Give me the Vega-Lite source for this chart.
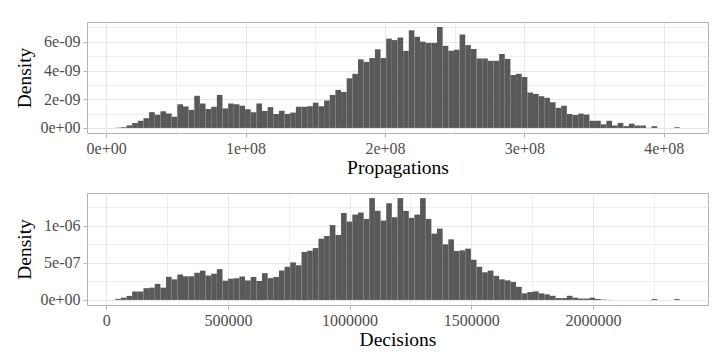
{
  "$schema": "https://vega.github.io/schema/vega-lite/v6.json",
  "background": "white",
  "padding": {"left": 14, "top": 18, "right": 18, "bottom": 5},
  "spacing": 15,
  "config": {
    "font": "Liberation Serif",
    "view": {"stroke": "#B3B3B3", "strokeWidth": 1},
    "axis": {
      "labelFont": "Liberation Serif",
      "labelFontSize": 16,
      "labelColor": "#4D4D4D",
      "titleFont": "Liberation Serif",
      "titleFontSize": 19.5,
      "titleFontWeight": "normal",
      "titleColor": "#000000",
      "domain": false,
      "tickColor": "#B3B3B3",
      "tickSize": 4,
      "labelPadding": 3,
      "labelOverlap": false,
      "labelFlush": false,
      "gridColor": "#E6E6E6"
    },
    "axisX": {"titlePadding": 2},
    "axisY": {"titlePadding": 5}
  },
  "datasets": {
    "prop": [
      {"start": 6500000, "end": 10550000, "density": 2e-11},
      {"start": 10550000, "end": 14600000, "density": 5e-11},
      {"start": 14600000, "end": 18650000, "density": 1.8e-10},
      {"start": 18650000, "end": 22700000, "density": 3.4e-10},
      {"start": 22700000, "end": 26750000, "density": 5.0e-10},
      {"start": 26750000, "end": 30800000, "density": 6.8e-10},
      {"start": 30800000, "end": 34850000, "density": 1.10e-9},
      {"start": 34850000, "end": 38900000, "density": 9.2e-10},
      {"start": 38900000, "end": 42950000, "density": 1.16e-9},
      {"start": 42950000, "end": 47000000, "density": 1.01e-9},
      {"start": 47000000, "end": 51050000, "density": 7.8e-10},
      {"start": 51050000, "end": 55100000, "density": 1.65e-9},
      {"start": 55100000, "end": 59150000, "density": 1.50e-9},
      {"start": 59150000, "end": 63200000, "density": 1.26e-9},
      {"start": 63200000, "end": 67250000, "density": 2.24e-9},
      {"start": 67250000, "end": 71300000, "density": 1.70e-9},
      {"start": 71300000, "end": 75350000, "density": 1.32e-9},
      {"start": 75350000, "end": 79400000, "density": 1.47e-9},
      {"start": 79400000, "end": 83450000, "density": 2.30e-9},
      {"start": 83450000, "end": 87500000, "density": 1.36e-9},
      {"start": 87500000, "end": 91550000, "density": 1.70e-9},
      {"start": 91550000, "end": 95600000, "density": 1.65e-9},
      {"start": 95600000, "end": 99650000, "density": 1.55e-9},
      {"start": 99650000, "end": 103700000, "density": 1.30e-9},
      {"start": 103700000, "end": 107750000, "density": 1.10e-9},
      {"start": 107750000, "end": 111800000, "density": 1.71e-9},
      {"start": 111800000, "end": 115850000, "density": 1.18e-9},
      {"start": 115850000, "end": 119900000, "density": 1.45e-9},
      {"start": 119900000, "end": 123950000, "density": 9.7e-10},
      {"start": 123950000, "end": 128000000, "density": 1.20e-9},
      {"start": 128000000, "end": 132050000, "density": 9.8e-10},
      {"start": 132050000, "end": 136100000, "density": 1.07e-9},
      {"start": 136100000, "end": 140150000, "density": 1.47e-9},
      {"start": 140150000, "end": 144200000, "density": 1.47e-9},
      {"start": 144200000, "end": 148250000, "density": 1.51e-9},
      {"start": 148250000, "end": 152300000, "density": 1.76e-9},
      {"start": 152300000, "end": 156350000, "density": 1.52e-9},
      {"start": 156350000, "end": 160400000, "density": 1.91e-9},
      {"start": 160400000, "end": 164450000, "density": 2.30e-9},
      {"start": 164450000, "end": 168500000, "density": 2.65e-9},
      {"start": 168500000, "end": 172550000, "density": 2.51e-9},
      {"start": 172550000, "end": 176600000, "density": 3.46e-9},
      {"start": 176600000, "end": 180650000, "density": 3.77e-9},
      {"start": 180650000, "end": 184700000, "density": 4.78e-9},
      {"start": 184700000, "end": 188750000, "density": 4.60e-9},
      {"start": 188750000, "end": 192800000, "density": 4.87e-9},
      {"start": 192800000, "end": 196850000, "density": 5.48e-9},
      {"start": 196850000, "end": 200900000, "density": 4.87e-9},
      {"start": 200900000, "end": 204950000, "density": 6.22e-9},
      {"start": 204950000, "end": 209000000, "density": 6.12e-9},
      {"start": 209000000, "end": 213050000, "density": 6.30e-9},
      {"start": 213050000, "end": 217100000, "density": 5.37e-9},
      {"start": 217100000, "end": 221150000, "density": 6.80e-9},
      {"start": 221150000, "end": 225200000, "density": 6.35e-9},
      {"start": 225200000, "end": 229250000, "density": 6.01e-9},
      {"start": 229250000, "end": 233300000, "density": 5.92e-9},
      {"start": 233300000, "end": 237350000, "density": 5.92e-9},
      {"start": 237350000, "end": 241400000, "density": 7.03e-9},
      {"start": 241400000, "end": 245450000, "density": 5.72e-9},
      {"start": 245450000, "end": 249500000, "density": 5.38e-9},
      {"start": 249500000, "end": 253550000, "density": 5.45e-9},
      {"start": 253550000, "end": 257600000, "density": 6.51e-9},
      {"start": 257600000, "end": 261650000, "density": 5.77e-9},
      {"start": 261650000, "end": 265700000, "density": 5.50e-9},
      {"start": 265700000, "end": 269750000, "density": 4.84e-9},
      {"start": 269750000, "end": 273800000, "density": 4.84e-9},
      {"start": 273800000, "end": 277850000, "density": 4.68e-9},
      {"start": 277850000, "end": 281900000, "density": 4.68e-9},
      {"start": 281900000, "end": 285950000, "density": 5.15e-9},
      {"start": 285950000, "end": 290000000, "density": 4.81e-9},
      {"start": 290000000, "end": 294050000, "density": 3.69e-9},
      {"start": 294050000, "end": 298100000, "density": 3.77e-9},
      {"start": 298100000, "end": 302150000, "density": 3.55e-9},
      {"start": 302150000, "end": 306200000, "density": 2.47e-9},
      {"start": 306200000, "end": 310250000, "density": 2.37e-9},
      {"start": 310250000, "end": 314300000, "density": 2.21e-9},
      {"start": 314300000, "end": 318350000, "density": 2.10e-9},
      {"start": 318350000, "end": 322400000, "density": 1.79e-9},
      {"start": 322400000, "end": 326450000, "density": 1.40e-9},
      {"start": 326450000, "end": 330500000, "density": 1.55e-9},
      {"start": 330500000, "end": 334550000, "density": 9.7e-10},
      {"start": 334550000, "end": 338600000, "density": 9.0e-10},
      {"start": 338600000, "end": 342650000, "density": 1.00e-9},
      {"start": 342650000, "end": 346700000, "density": 9.3e-10},
      {"start": 346700000, "end": 350750000, "density": 5.0e-10},
      {"start": 350750000, "end": 354800000, "density": 5.0e-10},
      {"start": 354800000, "end": 358850000, "density": 2.5e-10},
      {"start": 358850000, "end": 362900000, "density": 5.0e-10},
      {"start": 362900000, "end": 366950000, "density": 1.7e-10},
      {"start": 366950000, "end": 371000000, "density": 3.5e-10},
      {"start": 371000000, "end": 375050000, "density": 1.3e-10},
      {"start": 375050000, "end": 379100000, "density": 3.0e-10},
      {"start": 379100000, "end": 383150000, "density": 1.7e-10},
      {"start": 383150000, "end": 387200000, "density": 1.7e-10},
      {"start": 387200000, "end": 391250000, "density": 1e-11},
      {"start": 391250000, "end": 395300000, "density": 1.2e-10},
      {"start": 407450000, "end": 411500000, "density": 5e-11}
    ],
    "dec": [
      {"start": 37000, "end": 60200, "density": 1.4e-8},
      {"start": 60200, "end": 83400, "density": 3.0e-8},
      {"start": 83400, "end": 106600, "density": 5.4e-8},
      {"start": 106600, "end": 129800, "density": 1.13e-7},
      {"start": 129800, "end": 153000, "density": 1.13e-7},
      {"start": 153000, "end": 176200, "density": 1.58e-7},
      {"start": 176200, "end": 199400, "density": 1.65e-7},
      {"start": 199400, "end": 222600, "density": 2.16e-7},
      {"start": 222600, "end": 245800, "density": 1.65e-7},
      {"start": 245800, "end": 269000, "density": 3.11e-7},
      {"start": 269000, "end": 292200, "density": 2.77e-7},
      {"start": 292200, "end": 315400, "density": 3.42e-7},
      {"start": 315400, "end": 338600, "density": 3.18e-7},
      {"start": 338600, "end": 361800, "density": 3.18e-7},
      {"start": 361800, "end": 385000, "density": 3.65e-7},
      {"start": 385000, "end": 408200, "density": 3.94e-7},
      {"start": 408200, "end": 431400, "density": 3.28e-7},
      {"start": 431400, "end": 454600, "density": 3.51e-7},
      {"start": 454600, "end": 477800, "density": 4.14e-7},
      {"start": 477800, "end": 501000, "density": 2.59e-7},
      {"start": 501000, "end": 524200, "density": 2.84e-7},
      {"start": 524200, "end": 547400, "density": 2.93e-7},
      {"start": 547400, "end": 570600, "density": 3.15e-7},
      {"start": 570600, "end": 593800, "density": 2.62e-7},
      {"start": 593800, "end": 617000, "density": 3.09e-7},
      {"start": 617000, "end": 640200, "density": 2.55e-7},
      {"start": 640200, "end": 663400, "density": 3.60e-7},
      {"start": 663400, "end": 686600, "density": 2.93e-7},
      {"start": 686600, "end": 709800, "density": 3.08e-7},
      {"start": 709800, "end": 733000, "density": 3.96e-7},
      {"start": 733000, "end": 756200, "density": 4.46e-7},
      {"start": 756200, "end": 779400, "density": 5.05e-7},
      {"start": 779400, "end": 802600, "density": 4.66e-7},
      {"start": 802600, "end": 825800, "density": 6.44e-7},
      {"start": 825800, "end": 849000, "density": 6.62e-7},
      {"start": 849000, "end": 872200, "density": 6.98e-7},
      {"start": 872200, "end": 895400, "density": 8.24e-7},
      {"start": 895400, "end": 918600, "density": 8.60e-7},
      {"start": 918600, "end": 941800, "density": 1.007e-6},
      {"start": 941800, "end": 965000, "density": 8.74e-7},
      {"start": 965000, "end": 988200, "density": 1.169e-6},
      {"start": 988200, "end": 1011400, "density": 1.054e-6},
      {"start": 1011400, "end": 1034600, "density": 1.149e-6},
      {"start": 1034600, "end": 1057800, "density": 1.176e-6},
      {"start": 1057800, "end": 1081000, "density": 1.090e-6},
      {"start": 1081000, "end": 1104200, "density": 1.370e-6},
      {"start": 1104200, "end": 1127400, "density": 1.200e-6},
      {"start": 1127400, "end": 1150600, "density": 1.068e-6},
      {"start": 1150600, "end": 1173800, "density": 1.301e-6},
      {"start": 1173800, "end": 1197000, "density": 1.113e-6},
      {"start": 1197000, "end": 1220200, "density": 1.370e-6},
      {"start": 1220200, "end": 1243400, "density": 1.198e-6},
      {"start": 1243400, "end": 1266600, "density": 1.104e-6},
      {"start": 1266600, "end": 1289800, "density": 1.149e-6},
      {"start": 1289800, "end": 1313000, "density": 1.370e-6},
      {"start": 1313000, "end": 1336200, "density": 1.090e-6},
      {"start": 1336200, "end": 1359400, "density": 8.92e-7},
      {"start": 1359400, "end": 1382600, "density": 9.60e-7},
      {"start": 1382600, "end": 1405800, "density": 7.48e-7},
      {"start": 1405800, "end": 1429000, "density": 8.15e-7},
      {"start": 1429000, "end": 1452200, "density": 6.58e-7},
      {"start": 1452200, "end": 1475400, "density": 6.67e-7},
      {"start": 1475400, "end": 1498600, "density": 6.90e-7},
      {"start": 1498600, "end": 1521800, "density": 5.41e-7},
      {"start": 1521800, "end": 1545000, "density": 4.46e-7},
      {"start": 1545000, "end": 1568200, "density": 3.72e-7},
      {"start": 1568200, "end": 1591400, "density": 3.94e-7},
      {"start": 1591400, "end": 1614600, "density": 3.24e-7},
      {"start": 1614600, "end": 1637800, "density": 2.77e-7},
      {"start": 1637800, "end": 1661000, "density": 2.63e-7},
      {"start": 1661000, "end": 1684200, "density": 2.41e-7},
      {"start": 1684200, "end": 1707400, "density": 1.76e-7},
      {"start": 1707400, "end": 1730600, "density": 8.8e-8},
      {"start": 1730600, "end": 1753800, "density": 1.06e-7},
      {"start": 1753800, "end": 1777000, "density": 1.15e-7},
      {"start": 1777000, "end": 1800200, "density": 8.8e-8},
      {"start": 1800200, "end": 1823400, "density": 7.5e-8},
      {"start": 1823400, "end": 1846600, "density": 5.5e-8},
      {"start": 1846600, "end": 1869800, "density": 2.5e-8},
      {"start": 1869800, "end": 1893000, "density": 2.5e-8},
      {"start": 1893000, "end": 1916200, "density": 5.5e-8},
      {"start": 1916200, "end": 1939400, "density": 3.0e-8},
      {"start": 1939400, "end": 1962600, "density": 1.8e-8},
      {"start": 1962600, "end": 1985800, "density": 1.8e-8},
      {"start": 1985800, "end": 2009000, "density": 3.0e-8},
      {"start": 2009000, "end": 2032200, "density": 1.3e-8},
      {"start": 2032200, "end": 2055400, "density": 5e-9},
      {"start": 2055400, "end": 2078600, "density": 2e-9},
      {"start": 2241000, "end": 2264200, "density": 1.2e-8},
      {"start": 2333800, "end": 2357000, "density": 1.2e-8}
    ]
  },
  "vconcat": [
    {
      "width": 621,
      "height": 111,
      "data": {"name": "prop"},
      "mark": {"type": "bar", "color": "#595959"},
      "encoding": {
        "x": {
          "field": "start",
          "type": "quantitative",
          "title": "Propagations",
          "scale": {"domain": [-13750000, 431750000], "nice": false, "zero": false},
          "axis": {
            "values": [0, 50000000, 100000000, 150000000, 200000000, 250000000, 300000000, 350000000, 400000000],
            "labelExpr": "round(datum.value/5e7) % 2 === 1 ? '' : (datum.value === 0 ? '0e+00' : round(datum.value/1e8) + 'e+08')",
            "gridWidth": {"condition": {"test": "round(datum.value/5e7) % 2 === 1", "value": 0.6}, "value": 1},
            "tickOpacity": {"condition": {"test": "round(datum.value/5e7) % 2 === 1", "value": 0}, "value": 1}
          }
        },
        "x2": {"field": "end"},
        "y": {
          "field": "density",
          "type": "quantitative",
          "title": "Density",
          "scale": {"domain": [-3.52e-10, 7.38e-9], "nice": false, "zero": false},
          "axis": {
            "values": [0, 1e-9, 2e-9, 3e-9, 4e-9, 5e-9, 6e-9, 7e-9],
            "labelExpr": "round(datum.value*1e9) % 2 === 1 ? '' : (round(datum.value*1e9) === 0 ? '0e+00' : round(datum.value*1e9) + 'e-09')",
            "gridWidth": {"condition": {"test": "round(datum.value*1e9) % 2 === 1", "value": 0.6}, "value": 1},
            "tickOpacity": {"condition": {"test": "round(datum.value*1e9) % 2 === 1", "value": 0}, "value": 1}
          }
        },
        "y2": {"datum": 0}
      }
    },
    {
      "width": 621,
      "height": 112,
      "data": {"name": "dec"},
      "mark": {"type": "bar", "color": "#595959"},
      "encoding": {
        "x": {
          "field": "start",
          "type": "quantitative",
          "title": "Decisions",
          "scale": {"domain": [-79000, 2473000], "nice": false, "zero": false},
          "axis": {
            "values": [0, 250000, 500000, 750000, 1000000, 1250000, 1500000, 1750000, 2000000, 2250000],
            "labelExpr": "round(datum.value/250000) % 2 === 1 ? '' : format(datum.value, 'd')",
            "gridWidth": {"condition": {"test": "round(datum.value/250000) % 2 === 1", "value": 0.6}, "value": 1},
            "tickOpacity": {"condition": {"test": "round(datum.value/250000) % 2 === 1", "value": 0}, "value": 1}
          }
        },
        "x2": {"field": "end"},
        "y": {
          "field": "density",
          "type": "quantitative",
          "title": "Density",
          "scale": {"domain": [-6.85e-8, 1.439e-6], "nice": false, "zero": false},
          "axis": {
            "values": [0, 2.5e-7, 5e-7, 7.5e-7, 1e-6, 1.25e-6],
            "labelExpr": "round(datum.value/2.5e-7) % 2 === 1 ? '' : (round(datum.value*1e7) === 0 ? '0e+00' : (round(datum.value*1e7) === 10 ? '1e-06' : round(datum.value*1e7) + 'e-07'))",
            "gridWidth": {"condition": {"test": "round(datum.value/2.5e-7) % 2 === 1", "value": 0.6}, "value": 1},
            "tickOpacity": {"condition": {"test": "round(datum.value/2.5e-7) % 2 === 1", "value": 0}, "value": 1}
          }
        },
        "y2": {"datum": 0}
      }
    }
  ]
}
